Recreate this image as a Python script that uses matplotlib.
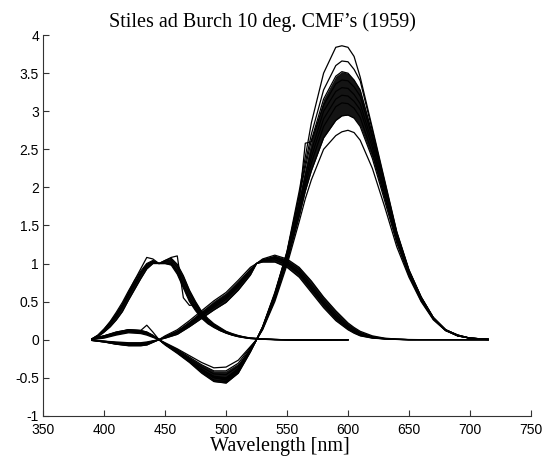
import matplotlib
matplotlib.use('Agg')
import matplotlib.pyplot as plt

# wavelength grids (nm)
wl_rg = [390, 400, 410, 420, 430, 435, 440, 445, 450, 460, 470, 480, 490, 500, 510, 520, 525, 530,
         540, 550, 560, 565, 570, 580, 590, 595, 600, 605, 610, 620, 630, 640, 650, 660, 670, 680, 690,
         700, 715]
wl_b = [390, 395, 400, 405, 410, 415, 420, 425, 430, 435, 440, 445, 450, 455, 460, 465, 470, 475,
        480, 485, 490, 495, 500, 505, 510, 515, 520, 530, 540, 550, 560, 570, 580, 590, 600]

# r-bar, individual observers
r_obs = [
    [0.00, 0.02, 0.06, 0.09, 0.08, 0.06, 0.03, 0.0, -0.04, -0.12, -0.21, -0.30, -0.37, -0.36, -0.27, -0.09, 0.0, 0.13,
     0.50, 0.98, 1.55, 1.85, 2.10, 2.50, 2.68, 2.73, 2.75, 2.72, 2.62, 2.25, 1.75, 1.22, 0.82, 0.50, 0.26, 0.12, 0.05,
     0.02, 0.0],
    [0.01, 0.03, 0.07, 0.10, 0.09, 0.07, 0.04, 0.0, -0.05, -0.13, -0.23, -0.33, -0.41, -0.41, -0.31, -0.10, 0.0, 0.14,
     0.53, 1.02, 1.62, 1.95, 2.22, 2.65, 2.88, 2.94, 2.95, 2.91, 2.80, 2.38, 1.83, 1.27, 0.84, 0.51, 0.27, 0.12, 0.05,
     0.02, 0.0],
    [0.01, 0.04, 0.08, 0.11, 0.10, 0.08, 0.04, 0.0, -0.05, -0.14, -0.25, -0.36, -0.45, -0.46, -0.35, -0.12, 0.0, 0.15,
     0.55, 1.05, 1.68, 2.02, 2.32, 2.80, 3.06, 3.11, 3.10, 3.04, 2.92, 2.45, 1.88, 1.30, 0.86, 0.52, 0.27, 0.12, 0.05,
     0.02, 0.005],
    [0.01, 0.04, 0.09, 0.12, 0.11, 0.09, 0.05, 0.0, -0.06, -0.15, -0.27, -0.39, -0.48, -0.50, -0.38, -0.13, 0.0, 0.16,
     0.57, 1.08, 1.72, 2.08, 2.40, 2.90, 3.16, 3.21, 3.20, 3.13, 3.02, 2.52, 1.92, 1.33, 0.87, 0.53, 0.28, 0.13, 0.05,
     0.02, 0.005],
    [0.01, 0.04, 0.09, 0.12, 0.11, 0.09, 0.05, 0.0, -0.06, -0.16, -0.28, -0.40, -0.50, -0.52, -0.40, -0.14, 0.0, 0.16,
     0.58, 1.10, 1.78, 2.15, 2.48, 3.00, 3.26, 3.31, 3.30, 3.22, 3.10, 2.58, 1.97, 1.36, 0.89, 0.54, 0.28, 0.13, 0.05,
     0.02, 0.005],
    [0.01, 0.05, 0.10, 0.13, 0.12, 0.10, 0.05, 0.0, -0.06, -0.17, -0.29, -0.42, -0.53, -0.55, -0.42, -0.15, 0.0, 0.17,
     0.60, 1.12, 1.82, 2.58, 2.60, 3.08, 3.36, 3.41, 3.40, 3.32, 3.20, 2.65, 2.02, 1.38, 0.90, 0.55, 0.29, 0.13, 0.06,
     0.02, 0.005],
    [0.01, 0.05, 0.10, 0.13, 0.12, 0.10, 0.06, 0.0, -0.07, -0.18, -0.30, -0.44, -0.55, -0.57, -0.44, -0.16, 0.0, 0.17,
     0.62, 1.15, 1.88, 2.26, 2.62, 3.16, 3.46, 3.52, 3.50, 3.41, 3.28, 2.70, 2.05, 1.40, 0.91, 0.56, 0.29, 0.13, 0.06,
     0.02, 0.005],
    [0.01, 0.05, 0.09, 0.13, 0.12, 0.19, 0.10, 0.0, -0.06, -0.16, -0.28, -0.40, -0.50, -0.53, -0.41, -0.14, 0.0, 0.16,
     0.60, 1.14, 1.90, 2.32, 2.70, 3.28, 3.60, 3.66, 3.65, 3.55, 3.40, 2.75, 2.08, 1.41, 0.91, 0.56, 0.29, 0.13, 0.06,
     0.02, 0.005],
    [0.01, 0.04, 0.09, 0.12, 0.11, 0.09, 0.05, 0.0, -0.06, -0.16, -0.27, -0.39, -0.49, -0.51, -0.40, -0.14, 0.0, 0.16,
     0.60, 1.16, 1.95, 2.40, 2.85, 3.50, 3.84, 3.86, 3.84, 3.72, 3.45, 2.78, 2.10, 1.42, 0.92, 0.56, 0.29, 0.13, 0.06,
     0.02, 0.005],
]

# g-bar, individual observers
g_obs = [
    [-0.005, -0.02, -0.03, -0.04, -0.04, -0.03, -0.015, 0, 0.02, 0.07, 0.17, 0.28, 0.39, 0.49, 0.65, 0.85, 1.0, 1.02,
     1.02, 0.95, 0.82, 0.72, 0.62, 0.42, 0.25, 0.19, 0.13, 0.085, 0.05, 0.02, 0.01, 0.003, 0, 0, 0, 0, 0, 0, 0],
    [-0.005, -0.02, -0.04, -0.05, -0.05, -0.04, -0.02, 0, 0.03, 0.09, 0.19, 0.31, 0.42, 0.53, 0.69, 0.88, 1.0, 1.03,
     1.05, 0.98, 0.86, 0.76, 0.66, 0.46, 0.28, 0.21, 0.15, 0.10, 0.06, 0.025, 0.01, 0.004, 0, 0, 0, 0, 0, 0, 0],
    [-0.01, -0.03, -0.05, -0.06, -0.06, -0.05, -0.025, 0, 0.03, 0.10, 0.21, 0.33, 0.45, 0.56, 0.72, 0.90, 1.0, 1.04,
     1.07, 1.01, 0.89, 0.79, 0.69, 0.49, 0.31, 0.24, 0.17, 0.12, 0.08, 0.035, 0.015, 0.005, 0, 0, 0, 0, 0, 0, 0],
    [-0.01, -0.03, -0.06, -0.07, -0.07, -0.06, -0.03, 0, 0.04, 0.11, 0.22, 0.35, 0.47, 0.58, 0.74, 0.92, 1.0, 1.05,
     1.09, 1.03, 0.92, 0.82, 0.72, 0.52, 0.34, 0.26, 0.19, 0.14, 0.09, 0.04, 0.015, 0.005, 0, 0, 0, 0, 0, 0, 0],
    [-0.01, -0.03, -0.06, -0.08, -0.08, -0.07, -0.035, 0, 0.05, 0.13, 0.25, 0.38, 0.51, 0.62, 0.78, 0.95, 1.0, 1.06,
     1.11, 1.06, 0.95, 0.86, 0.77, 0.56, 0.38, 0.30, 0.22, 0.16, 0.11, 0.05, 0.02, 0.008, 0.002, 0, 0, 0, 0, 0, 0],
    [-0.005, -0.02, -0.04, -0.05, -0.05, -0.04, -0.02, 0, 0.03, 0.10, 0.20, 0.32, 0.44, 0.55, 0.70, 0.89, 1.0, 1.04,
     1.08, 1.00, 0.87, 0.77, 0.67, 0.47, 0.29, 0.22, 0.16, 0.11, 0.07, 0.03, 0.01, 0.004, 0, 0, 0, 0, 0, 0, 0],
]

# b-bar, individual observers
b_obs = [
    [0.0, 0.04, 0.10, 0.17, 0.26, 0.37, 0.52, 0.66, 0.80, 0.93, 1.0, 1.0, 1.0, 0.98, 0.86, 0.68, 0.50, 0.38, 0.28,
     0.21, 0.16, 0.12, 0.085, 0.06, 0.04, 0.025, 0.015, 0.005, 0.0, -0.003, -0.005, -0.005, -0.004, -0.003, -0.002],
    [0.01, 0.05, 0.12, 0.20, 0.30, 0.42, 0.57, 0.71, 0.85, 0.96, 1.02, 1.0, 1.02, 1.02, 0.90, 0.74, 0.56, 0.43, 0.32,
     0.24, 0.18, 0.13, 0.095, 0.065, 0.045, 0.03, 0.02, 0.008, 0.002, -0.002, -0.004, -0.005, -0.004, -0.003, -0.002],
    [0.01, 0.06, 0.14, 0.23, 0.34, 0.46, 0.61, 0.75, 0.88, 0.99, 1.03, 1.0, 1.03, 1.05, 0.95, 0.79, 0.61, 0.47, 0.35,
     0.26, 0.20, 0.15, 0.105, 0.075, 0.05, 0.035, 0.02, 0.01, 0.003, -0.002, -0.004, -0.005, -0.004, -0.003, -0.002],
    [0.0, 0.05, 0.13, 0.22, 0.33, 0.46, 0.62, 0.78, 0.93, 1.08, 1.06, 1.0, 1.0, 1.0, 0.88, 0.70, 0.52, 0.40, 0.30,
     0.22, 0.17, 0.12, 0.09, 0.06, 0.04, 0.03, 0.015, 0.005, 0.0, -0.003, -0.005, -0.005, -0.004, -0.003, -0.002],
    [0.01, 0.05, 0.12, 0.20, 0.31, 0.43, 0.58, 0.72, 0.86, 0.97, 1.02, 1.0, 1.04, 1.08, 1.10, 0.55, 0.45, 0.46, 0.35,
     0.25, 0.19, 0.14, 0.10, 0.07, 0.05, 0.03, 0.02, 0.008, 0.002, -0.002, -0.004, -0.005, -0.004, -0.003, -0.002],
    [0.01, 0.06, 0.14, 0.24, 0.36, 0.49, 0.64, 0.78, 0.90, 1.0, 1.04, 1.0, 1.04, 1.07, 0.99, 0.84, 0.65, 0.50, 0.37,
     0.28, 0.21, 0.16, 0.11, 0.08, 0.055, 0.035, 0.022, 0.01, 0.003, -0.002, -0.004, -0.005, -0.004, -0.003, -0.002],
]

fig = plt.figure(figsize=(5.53, 4.62), dpi=100)
ax = fig.add_axes([0.078, 0.100, 0.882, 0.824])

# dense cores of the bundles (between two observers)
ax.fill_between(wl_rg, r_obs[1], r_obs[6], color='0.08', linewidth=0)
ax.fill_between(wl_rg, g_obs[0], g_obs[4], color='0.08', linewidth=0)
ax.fill_between(wl_b, b_obs[0], b_obs[5], color='0.08', linewidth=0)

for curve in r_obs:
    ax.plot(wl_rg, curve, color='black', linewidth=0.9)
for curve in g_obs:
    ax.plot(wl_rg, curve, color='black', linewidth=0.9)
for curve in b_obs:
    ax.plot(wl_b, curve, color='black', linewidth=0.9)

ax.set_xlim(350, 750)
ax.set_ylim(-1, 4)
ax.set_xticks(range(350, 751, 50))
ax.set_yticks([-1, -0.5, 0, 0.5, 1, 1.5, 2, 2.5, 3, 3.5, 4])
ax.set_yticklabels(['-1', '-0.5', '0', '0.5', '1', '1.5', '2', '2.5', '3', '3.5', '4'])
ax.spines['top'].set_visible(False)
ax.spines['right'].set_visible(False)
for s in ['left', 'bottom']:
    ax.spines[s].set_color('0.2')
ax.tick_params(direction='in', length=4, width=0.8, color='0.2', labelsize=10)
ax.tick_params(axis='x', pad=5)
ax.tick_params(axis='y', pad=3)
for lab in ax.get_xticklabels() + ax.get_yticklabels():
    lab.set_family('Liberation Sans')

ax.set_xlabel('Wavelength [nm]', family='Liberation Serif', fontsize=14.5, labelpad=0, x=0.485)
ax.set_title('Stiles ad Burch 10 deg. CMF\u2019s (1959)', family='Liberation Serif',
             fontsize=14.5, x=0.45, pad=6)

fig.savefig('out.png', dpi=100)
